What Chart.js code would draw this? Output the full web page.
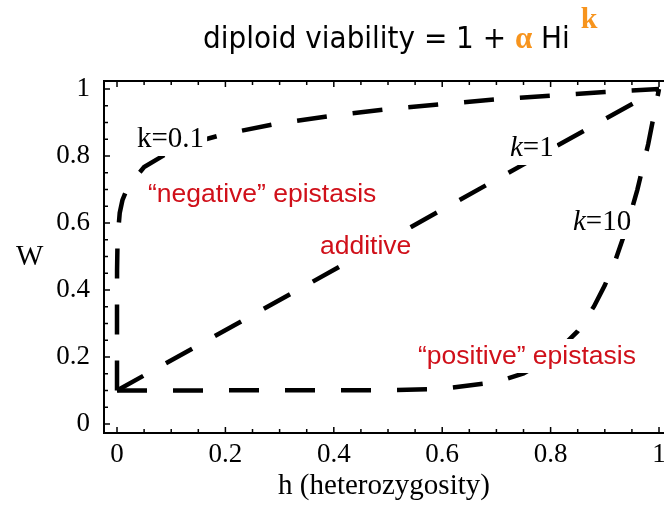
<!DOCTYPE html>
<html>
<head>
<meta charset="utf-8">
<script src="https://cdn.jsdelivr.net/npm/chart.js@4.4.1/dist/chart.umd.min.js"></script>
<style>
  html, body { margin: 0; padding: 0; background: #fff; }
  canvas { display: block; }
</style>
</head>
<body>
<canvas id="viabilityChart" width="664" height="506"></canvas>
<script>
// W against h for each k
const hK01 = [0, 0.00001, 0.0001, 0.001, 0.005, 0.01, 0.02, 0.05, 0.1, 0.15, 0.2, 0.3, 0.4, 0.5, 0.6, 0.7, 0.8, 0.9, 1];
const wK01 = [0.1, 0.385, 0.458, 0.551, 0.630, 0.668, 0.708, 0.767, 0.815, 0.844, 0.866, 0.898, 0.921, 0.940, 0.955, 0.969, 0.980, 0.991, 1];
const hK1 = [0, 0.5, 1];
const wK1 = [0.1, 0.55, 1];
const hK10 = [0, 0.5, 0.6, 0.7, 0.75, 0.8, 0.85, 0.88, 0.9, 0.92, 0.94, 0.96, 0.98, 1];
const wK10 = [0.1, 0.101, 0.105, 0.125, 0.151, 0.197, 0.277, 0.351, 0.414, 0.491, 0.585, 0.699, 0.835, 1];

const xTicks = [0, 0.2, 0.4, 0.6, 0.8, 1];
const yTicks = [0, 0.2, 0.4, 0.6, 0.8, 1];

const SERIF = '"Liberation Serif", "Times New Roman", serif';
const SANS = '"Liberation Sans", Arial, sans-serif';
const RED = '#d0101a';
const ORANGE = '#f7941d';

function pts(xs, ys) {
    return xs.map((x, i) => ({ x: x, y: ys[i] }));
}

function curve(xs, ys) {
    return {
        data: pts(xs, ys),
        borderColor: '#000',
        borderWidth: 4.5,
        borderDash: [30, 26],
        borderCapStyle: 'butt',
        pointRadius: 0,
        tension: 0,
        fill: false
    };
}

// text with a white box behind it, pieces = [[text, font, color], ...]
function label(ctx, x, baseline, pieces, pad) {
    let w = 0;
    pieces.forEach(p => { ctx.font = p[1]; w += ctx.measureText(p[0]).width; });
    if (pad) {
        ctx.fillStyle = '#fff';
        ctx.fillRect(x - pad, baseline - 22 - pad, w + 2 * pad, 28 + 2 * pad);
    }
    let cx = x;
    ctx.textBaseline = 'alphabetic';
    ctx.textAlign = 'left';
    pieces.forEach(p => {
        ctx.font = p[1];
        ctx.fillStyle = p[2];
        ctx.fillText(p[0], cx, baseline);
        cx += ctx.measureText(p[0]).width;
    });
}

const decorations = {
    id: 'decorations',
    afterDatasetsDraw(chart) {
        const ctx = chart.ctx;
        ctx.save();
        const serif = '29px ' + SERIF;
        const italic = 'italic 29px ' + SERIF;
        const red = '26.5px ' + SANS;
        label(ctx, 137, 147, [['k=0.1', serif, '#000']], 3);
        label(ctx, 510, 156, [['k', italic, '#000'], ['=1', serif, '#000']], 3);
        label(ctx, 573, 230, [['k', italic, '#000'], ['=10', serif, '#000']], 3);
        label(ctx, 148, 202, [['\u201cnegative\u201d epistasis', red, RED]], 3);
        label(ctx, 320, 254, [['additive', red, RED]], 3);
        label(ctx, 418, 364, [['\u201cpositive\u201d epistasis', red, RED]], 3);
        ctx.restore();
    },
    afterDraw(chart) {
        const ctx = chart.ctx;
        const area = chart.chartArea;
        const xs = chart.scales.x;
        const ys = chart.scales.y;
        ctx.save();

        // frame: left, bottom, top (right side runs off the picture)
        ctx.strokeStyle = '#000';
        ctx.lineWidth = 2;
        ctx.beginPath();
        ctx.moveTo(area.right + 5, area.top);
        ctx.lineTo(area.left, area.top);
        ctx.lineTo(area.left, area.bottom);
        ctx.lineTo(area.right + 5, area.bottom);
        ctx.stroke();

        // inward tick marks every 0.05
        ctx.lineWidth = 1.5;
        ctx.beginPath();
        for (let i = 0; i <= 20; i++) {
            const v = i / 20;
            const len = i % 4 === 0 ? 6 : 4;
            const px = xs.getPixelForValue(v);
            ctx.moveTo(px, area.bottom);
            ctx.lineTo(px, area.bottom - len);
            ctx.moveTo(px, area.top);
            ctx.lineTo(px, area.top + len);
            const py = ys.getPixelForValue(v);
            ctx.moveTo(area.left, py);
            ctx.lineTo(area.left + len, py);
        }
        ctx.stroke();

        // y axis name
        ctx.font = '29px ' + SERIF;
        ctx.fillStyle = '#000';
        ctx.textAlign = 'left';
        ctx.textBaseline = 'alphabetic';
        ctx.fillText('W', 16, 265);

        // heading with the orange symbols
        const head = '31px "DejaVu Sans Condensed", "DejaVu Sans", sans-serif';
        let x = 203;
        ctx.font = head;
        ctx.fillText('diploid viability = 1 + ', x, 48);
        x += ctx.measureText('diploid viability = 1 + ').width;
        ctx.font = 'bold 31px ' + SERIF;
        ctx.fillStyle = ORANGE;
        ctx.fillText('\u03b1', x, 48);
        x += ctx.measureText('\u03b1').width;
        ctx.font = head;
        ctx.fillStyle = '#000';
        ctx.fillText(' Hi ', x, 48);
        x += ctx.measureText(' Hi ').width;
        ctx.font = 'bold 30px ' + SERIF;
        ctx.fillStyle = ORANGE;
        ctx.fillText('k', x + 2, 28);
        ctx.restore();
    }
};

const ctxViability = document.getElementById('viabilityChart').getContext('2d');
const viabilityChart = new Chart(ctxViability, {
    type: 'line',
    data: {
        datasets: [curve(hK01, wK01), curve(hK1, wK1), curve(hK10, wK10)]
    },
    options: {
        responsive: false,
        animation: false,
        layout: { padding: { top: 81, left: 0, right: 0, bottom: 0 } },
        plugins: {
            legend: { display: false },
            tooltip: { enabled: false }
        },
        scales: {
            x: {
                type: 'linear',
                min: -0.024,
                max: 1.0092,
                afterBuildTicks(scale) { scale.ticks = xTicks.map(v => ({ value: v })); },
                afterFit(scale) { scale.height = 73; scale.paddingLeft = 0; scale.paddingRight = 0; },
                grid: { display: false, drawTicks: false },
                border: { display: false },
                ticks: {
                    padding: 6,
                    color: '#000',
                    font: { family: SERIF, size: 27 },
                    maxRotation: 0,
                    callback: v => String(Math.round(v * 10) / 10)
                },
                title: {
                    display: true,
                    text: 'h (heterozygosity)',
                    color: '#000',
                    font: { family: SERIF, size: 29 },
                    padding: { top: 0, bottom: 2 }
                }
            },
            y: {
                type: 'linear',
                min: -0.0269,
                max: 1.0239,
                afterBuildTicks(scale) { scale.ticks = yTicks.map(v => ({ value: v })); },
                afterFit(scale) { scale.width = 104; scale.paddingTop = 0; scale.paddingBottom = 0; },
                grid: { display: false, drawTicks: false },
                border: { display: false },
                ticks: {
                    padding: 14,
                    color: '#000',
                    font: { family: SERIF, size: 27 },
                    callback: v => String(Math.round(v * 10) / 10)
                }
            }
        }
    },
    plugins: [decorations]
});
</script>
</body>
</html>
